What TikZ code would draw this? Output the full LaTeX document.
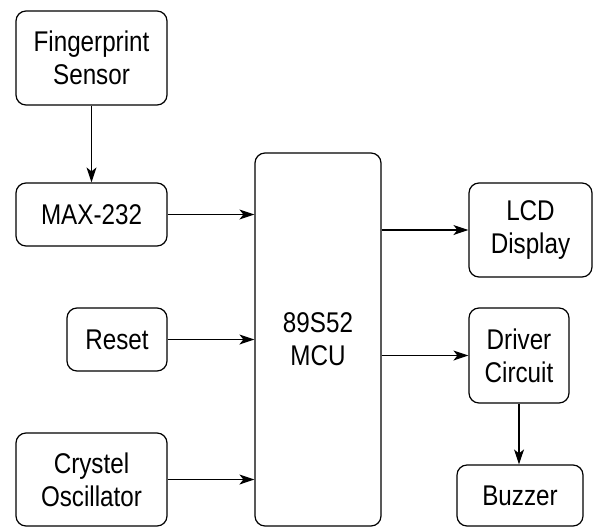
\documentclass[tikz,border=0pt]{standalone}
\usepackage{fontspec}
\setmainfont{Liberation Sans}[FakeStretch=0.85]
\usetikzlibrary{arrows.meta}

\begin{document}
\begin{tikzpicture}[x=1pt, y=-1pt,
  box/.style={rectangle, draw, rounded corners=10pt, inner sep=0pt, align=center, line width=1.2pt, font=\fontsize{28.5}{33}\selectfont},
  arrow/.style={-{Stealth[length=15pt, width=10pt, inset=4pt]}, line width=1.2pt}
]
\useasboundingbox (0,0) rectangle (593,527);
\node[box, minimum width=151pt, minimum height=94pt] (sensor) at (91.5,58) {Fingerprint\\Sensor};
\node[box, minimum width=151pt, minimum height=63pt] (max) at (91.5,214.5) {MAX-232};
\node[box, minimum width=100pt, minimum height=63pt] (reset) at (117,339.5) {Reset};
\node[box, minimum width=151pt, minimum height=93pt] (osc) at (91.5,479.5) {Crystel\\Oscillator};
\node[box, minimum width=126pt, minimum height=373pt] (mcu) at (318,339.5) {89S52\\MCU};
\node[box, minimum width=123pt, minimum height=94pt] (lcd) at (530.5,230) {LCD\\Display};
\node[box, minimum width=100pt, minimum height=95pt] (driver) at (519,355.5) {Driver\\Circuit};
\node[box, minimum width=126pt, minimum height=61pt] (buzzer) at (520,495.5) {Buzzer};

\draw[arrow] (sensor) -- (max);
\draw[arrow] (max.east) -- (max.east -| mcu.west);
\draw[arrow] (reset.east) -- (reset.east -| mcu.west);
\draw[arrow] (osc.east) -- (osc.east -| mcu.west);
\draw[arrow] (mcu.east |- lcd.west) -- (lcd.west);
\draw[arrow] (mcu.east |- driver.west) -- (driver.west);
\draw[arrow] (driver) -- (driver |- buzzer.north);
\end{tikzpicture}
\end{document}
